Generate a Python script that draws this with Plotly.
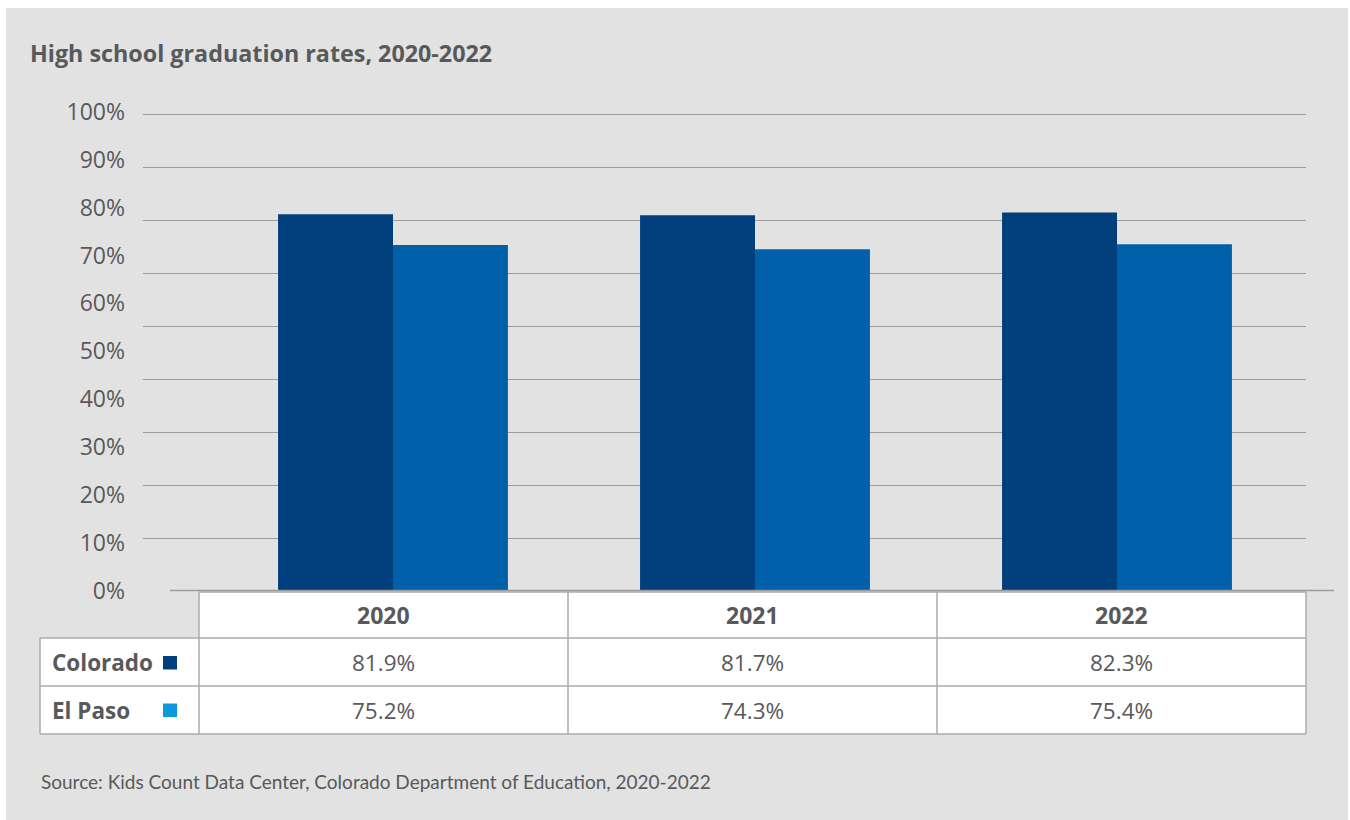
import plotly.graph_objects as go

# ---- data ----
years = ["2020", "2021", "2022"]
colorado = [81.9, 81.7, 82.3]
el_paso = [75.2, 74.3, 75.4]
series_names = ["Colorado", "El Paso"]
pct_ticks = [0, 10, 20, 30, 40, 50, 60, 70, 80, 90, 100]
pct_labels = [f"{t}%" for t in pct_ticks]
grid_levels = [10, 20, 30, 40, 50, 60, 70, 80, 90]

title_text = "High school graduation rates, 2020-2022"
source_text = "Source: Kids Count Data Center, Colorado Department of Education, 2020-2022"

# ---- styling ----
W, H = 1350, 820
ML, MR, MT, MB = 143, 44, 100, 229
PW, PH = W - ML - MR, H - MT - MB
PANEL = "#e1e2e1"
TEXT = "#58595b"
GRID = "#9c9c9c"
BORDER = "#ababab"
C_CO = "#003f7c"
C_EP = "#0060aa"
C_EP_KEY = "#0b9ad9"
NUM_FONT = "Open Sans"
LBL_FONT = "Open Sans"
SRC_FONT = "Lato"


def px(x):
    return (x - ML) / PW


def py(y):
    return (H - MB - y) / PH


xs = list(range(len(years)))

# category spacing: 362 px per year, first group centred at x=393 px
x_lo = (ML - 393) / 362
x_hi = (W - MR - 393) / 362

fig = go.Figure()
fig.add_trace(go.Bar(x=xs, y=colorado, name=series_names[0], marker_color=C_CO,
                     marker_line_width=0, hoverinfo="skip", yaxis="y"))
fig.add_trace(go.Bar(x=xs, y=el_paso, name=series_names[1], marker_color=C_EP,
                     marker_line_width=0, hoverinfo="skip", yaxis="y"))
# invisible carriers so the rule axis and the percent axis are drawn
fig.add_trace(go.Scatter(x=[x_lo] * len(grid_levels), y=grid_levels, mode="none",
                         hoverinfo="skip", showlegend=False, yaxis="y2"))
fig.add_trace(go.Scatter(x=[x_lo] * len(pct_ticks), y=pct_ticks, mode="none",
                         hoverinfo="skip", showlegend=False, yaxis="y3"))

shapes = []
# grey panel
shapes.append(dict(type="rect", xref="paper", yref="paper", x0=px(6), x1=px(1348),
                   y0=py(8), y1=py(820), fillcolor=PANEL, line_width=0, layer="below"))
# baseline
shapes.append(dict(type="line", xref="paper", yref="paper", x0=px(170), x1=px(1334),
                   y0=py(590.5), y1=py(590.5), line=dict(color=GRID, width=1.5)))

# table cells
col_edges = [40, 199, 568, 937, 1306]
row_edges = [592, 638, 686, 734]
shapes.append(dict(type="rect", xref="paper", yref="paper", x0=px(199), x1=px(1306),
                   y0=py(592), y1=py(638), fillcolor="white", line_width=0))
shapes.append(dict(type="rect", xref="paper", yref="paper", x0=px(40), x1=px(1306),
                   y0=py(638), y1=py(734), fillcolor="white", line_width=0))
# horizontal rules
shapes.append(dict(type="line", xref="paper", yref="paper", x0=px(199), x1=px(1306),
                   y0=py(592), y1=py(592), line=dict(color=BORDER, width=1.5)))
for yy in row_edges[1:]:
    shapes.append(dict(type="line", xref="paper", yref="paper", x0=px(40), x1=px(1306),
                       y0=py(yy), y1=py(yy), line=dict(color=BORDER, width=1.5)))
# vertical rules
shapes.append(dict(type="line", xref="paper", yref="paper", x0=px(40), x1=px(40),
                   y0=py(638), y1=py(734), line=dict(color=BORDER, width=1.5)))
for xx in col_edges[1:]:
    shapes.append(dict(type="line", xref="paper", yref="paper", x0=px(xx), x1=px(xx),
                       y0=py(592), y1=py(734), line=dict(color=BORDER, width=1.5)))
# legend keys
for (y0, y1), col in zip([(656, 669.5), (703.5, 717)], [C_CO, C_EP_KEY]):
    shapes.append(dict(type="rect", xref="paper", yref="paper", x0=px(163), x1=px(177),
                       y0=py(y0), y1=py(y1), fillcolor=col, line_width=0))

annotations = []
annotations.append(dict(text=f"<b>{title_text}</b>", xref="paper", yref="paper",
                        x=px(28), y=py(53), xanchor="left", yanchor="middle", showarrow=False,
                        font=dict(family=LBL_FONT, size=23.3, color=TEXT)))
annotations.append(dict(text=source_text, xref="paper", yref="paper",
                        x=px(39), y=py(781), xanchor="left", yanchor="middle", showarrow=False,
                        font=dict(family=SRC_FONT, size=19, color=TEXT)))

row_centers = [615, 662, 710]
for i, yr in enumerate(years):
    cx = (col_edges[i + 1] + col_edges[i + 2]) / 2
    annotations.append(dict(text=f"<b>{yr}</b>", xref="paper", yref="paper", x=px(cx),
                            y=py(row_centers[0]), xanchor="center", yanchor="middle",
                            showarrow=False, font=dict(family=NUM_FONT, size=23, color=TEXT)))
    for vals, rc in zip([colorado, el_paso], row_centers[1:]):
        annotations.append(dict(text=f"{vals[i]:.1f}%", xref="paper", yref="paper", x=px(cx),
                                y=py(rc), xanchor="center", yanchor="middle",
                                showarrow=False, font=dict(family=NUM_FONT, size=22.5, color=TEXT)))
for name, rc in zip(series_names, row_centers[1:]):
    annotations.append(dict(text=f"<b>{name}</b>", xref="paper", yref="paper", x=px(50),
                            y=py(rc), xanchor="left", yanchor="middle", showarrow=False,
                            font=dict(family=LBL_FONT, size=22.5, color=TEXT)))

fig.update_layout(
    width=W, height=H,
    margin=dict(l=ML, r=MR, t=MT, b=MB, autoexpand=False),
    paper_bgcolor="white", plot_bgcolor="rgba(0,0,0,0)",
    showlegend=False, barmode="group", bargap=0.365, bargroupgap=0,
    xaxis=dict(range=[x_lo, x_hi], showticklabels=False, showgrid=False,
               zeroline=False, showline=False, ticks=""),
    # bar scale: 4.6 px per percentage point
    yaxis=dict(range=[0, PH / 4.6], showticklabels=False, showgrid=False,
               zeroline=False, showline=False, ticks=""),
    # horizontal rules: 53 px apart
    yaxis2=dict(overlaying="y", range=[0, PH / 5.3], tickmode="array", tickvals=grid_levels,
                showticklabels=False, showgrid=True, gridcolor=GRID, gridwidth=1.3,
                zeroline=False, showline=False, ticks="", side="left"),
    # percent labels
    yaxis3=dict(overlaying="y", range=[0, PH / 4.793], tickmode="array", tickvals=pct_ticks,
                ticktext=pct_labels, showgrid=False, zeroline=False, showline=False,
                ticks="", side="left", ticklabelstandoff=17,
                tickfont=dict(family=NUM_FONT, size=23, color=TEXT)),
    shapes=shapes,
    annotations=annotations,
)

fig.write_html("out.html")
